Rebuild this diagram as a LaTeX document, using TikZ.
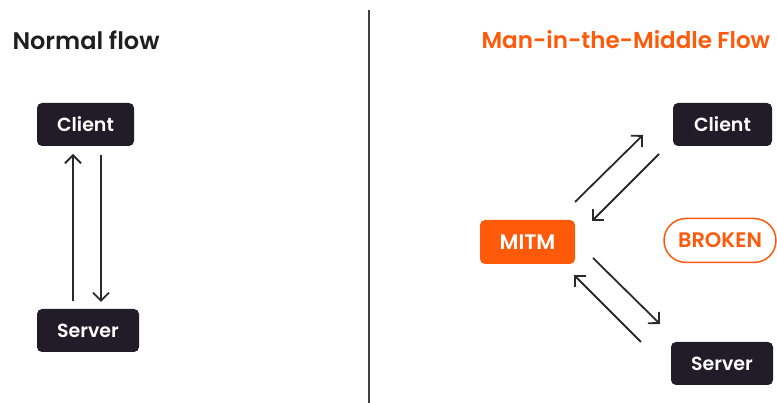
\documentclass[tikz,border=0pt]{standalone}
\usepackage{fontspec}
\setmainfont{Poppins}[BoldFont={* SemiBold}]
\usetikzlibrary{arrows.meta}
\definecolor{boxdark}{HTML}{221C28}
\definecolor{mitmorange}{HTML}{FF5A0A}
\definecolor{linegray}{HTML}{2A2A2A}

\begin{document}
\begin{tikzpicture}[
    x=1pt, y=1pt,
    box/.style={
        rounded corners=5pt,
        fill=boxdark,
        text=white,
        minimum height=43pt,
        font=\bfseries\fontsize{19}{22}\selectfont
    },
    flow/.style={
        draw=linegray,
        line width=1.8pt,
        -{Straight Barb[length=8pt,width=16pt,line width=1.8pt]}
    },
    heading/.style={anchor=west, font=\bfseries\fontsize{24}{28}\selectfont}
]
\useasboundingbox (0,0) rectangle (777,403);

% titles
\node[heading, text=black!88] (normtitle) at (9,363) {Normal flow};
\node[heading, text=mitmorange, font=\bfseries\fontsize{23}{28}\selectfont] (mitmtitle) at (478,363) {Man-in-the-Middle Flow};

% divider between the two flows
\coordinate (divtop) at (369,393);
\coordinate (divbot) at (369,0);
\draw[line width=1.3pt, draw=black!75] (divtop) -- (divbot);

% normal flow
\node[box, minimum width=97pt] (cliL) at (85.5,278.5) {Client};
\node[box, minimum width=102pt] (srvL) at (88,72.5) {Server};
\coordinate (upLa) at (73,102);   \coordinate (upLb) at (73,249);
\coordinate (dnLa) at (101,248);  \coordinate (dnLb) at (101,101);
\draw[flow] (upLa) -- (upLb);
\draw[flow] (dnLa) -- (dnLb);

% flow through the attacker
\node[box, minimum width=99pt] (cliR) at (722.5,278.5) {Client};
\node[box, minimum width=102pt] (srvR) at (722,39.5) {Server};
\node[box, fill=mitmorange, minimum width=95pt, minimum height=44pt,
      font=\bfseries\fontsize{21}{24}\selectfont] (mitm) at (527.5,161) {MITM};
\node[box, fill=white, draw=mitmorange, text=mitmorange, line width=1.5pt,
      rounded corners=22pt, minimum width=112pt, minimum height=44pt,
      font=\bfseries\fontsize{21}{24}\selectfont] (broken) at (720,162.5) {BROKEN};

\coordinate (up1a) at (575,201);  \coordinate (up1b) at (643,268);
\coordinate (dn1a) at (659,249);  \coordinate (dn1b) at (592,182);
\coordinate (dn2a) at (593,145);  \coordinate (dn2b) at (660,79);
\coordinate (up2a) at (641,61);   \coordinate (up2b) at (574,128);
\draw[flow] (up1a) -- (up1b);
\draw[flow] (dn1a) -- (dn1b);
\draw[flow] (dn2a) -- (dn2b);
\draw[flow] (up2a) -- (up2b);
\end{tikzpicture}
\end{document}
